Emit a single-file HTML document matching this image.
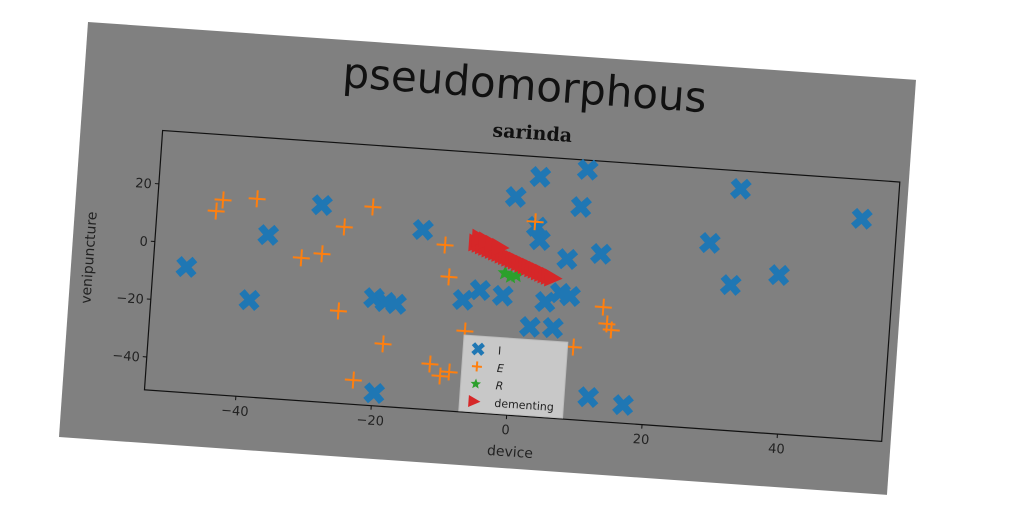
<!DOCTYPE html>
<html><head><meta charset="utf-8"><style>
html,body{margin:0;padding:0;background:#fff;width:1024px;height:512px;overflow:hidden}
#fig{position:absolute;left:88px;top:22px;width:830px;height:416px;transform-origin:0 0;transform:rotate(4deg);background:#808080}
text{font-family:"DejaVu Sans","Liberation Sans",sans-serif}
</style></head><body>
<div id="fig">
<svg id="chart" width="830" height="416">
<text x="440" y="47" text-anchor="middle" font-size="42" font-family="'Comic Sans MS','DejaVu Sans',sans-serif" fill="#111">pseudomorphous</text>
<text x="451" y="86" text-anchor="middle" font-size="19" font-weight="bold" style="font-family:'DejaVu Serif','Liberation Serif',serif" fill="#111">sarinda</text>
<g id="plot"></g>
<text x="451" y="404" text-anchor="middle" font-size="14" fill="#222">device</text>
<text transform="translate(22,235) rotate(-90)" text-anchor="middle" font-size="14" fill="#222">venipuncture</text>
</svg></div>
<script>
const blueX=[-48.6,-39.0,-36.9,-29.3,-20.7,-19.0,-17.4,-19.7,-14.2,-7.6,-5.2,-1.8,-0.9,2.5,9.4,8.8,2.5,3.1,7.3,12.2,4.5,6.6,8.1,2.5,5.9,11.8,17.0,28.1,31.6,32.1,38.6,50.2];
const blueY=[-8.0,-17.9,5.0,16.6,-14.2,-15.3,-15.7,-47.0,10.5,-12.7,-8.9,-10.3,24.1,31.6,35.2,22.2,14.3,9.8,3.9,6.5,-11.4,-8.0,-8.8,-20.4,-20.2,-43.2,-45.1,12.9,-1.1,32.3,3.5,24.9];
const orangeX=[-43.9,-44.8,-38.9,-21.8,-25.8,-31.8,-28.8,-10.8,-9.9,-25.8,-18.9,-11.8,-8.9,-10.2,-22.9,-7.0,2.2,13.1,13.8,14.5,9.1];
const orangeY=[16.0,12.0,17.2,17.2,9.6,-2.1,-0.2,5.8,-5.1,-19.5,-29.8,-35.6,-37.9,-39.5,-43.0,-23.4,16.0,-11.8,-17.5,-19.5,-26.3];
const greenX=[-1.7,-0.8,0.0];
const greenY=[-2.5,-3.5,-3.0];
const redX=[-6.0,-5.5,-5.0,-4.5,-4.0,-3.5,-3.0,-2.5,-2.0,-1.5,-1.0,-0.5,0.0,0.5,1.0,1.5,2.0,2.5,3.0,3.5,4.0,4.5,5.0,5.5,-5.6,-4.6,-3.6,-2.6];
const redY=[7.3,6.9,6.4,6.0,5.5,5.1,4.6,4.2,3.7,3.3,2.8,2.4,2.0,1.5,1.1,0.6,0.2,-0.3,-0.7,-1.2,-1.6,-2.1,-2.5,-3.0,9.0,8.2,7.2,6.3];
const xTicks=[-40,-20,0,20,40];
const yTicks=[20,0,-20,-40];
const L=82,T=103,W=739,H=260,xmin=-53.5,xmax=55.4,ymin=-51.4,ymax=38.5;
const sx=v=>L+(v-xmin)/(xmax-xmin)*W;
const sy=v=>T+(ymax-v)/(ymax-ymin)*H;
const NS='http://www.w3.org/2000/svg';
const plot=document.getElementById('plot');
function mk(tag,attrs,parent){const e=document.createElementNS(NS,tag);for(const k in attrs)e.setAttribute(k,attrs[k]);(parent||plot).appendChild(e);return e;}
const frame=mk('rect',{x:L,y:T,width:W,height:H,fill:'none',stroke:'#111','stroke-width':1.2});


xTicks.forEach(t=>{
 const g=mk('g',{});
 
 
 mk('line',{x1:sx(t),x2:sx(t),y1:T+H,y2:T+H+4,stroke:'#111'},g);
 const tx=mk('text',{x:sx(t),y:T+H+19,'text-anchor':'middle','font-size':13,fill:'#222'},g);tx.textContent=String(t).replace('-','\u2212');
});
yTicks.forEach(t=>{
 const g=mk('g',{});
 
 
 mk('line',{x1:L-4,x2:L,y1:sy(t),y2:sy(t),stroke:'#111'},g);
 const tx=mk('text',{x:L-7,y:sy(t)+5,'text-anchor':'end','font-size':13,fill:'#222'},g);tx.textContent=String(t).replace('-','\u2212');
});
function xmark(cx,cy,s,g){const d=s/2;mk('path',{d:`M${cx-d} ${cy-d}L${cx+d} ${cy+d}M${cx-d} ${cy+d}L${cx+d} ${cy-d}`,stroke:'#1f77b4','stroke-width':s*0.45,'stroke-linecap':'butt'},g);}
function plus(cx,cy,s,g){const d=s/2;mk('path',{d:`M${cx-d} ${cy}H${cx+d}M${cx} ${cy-d}V${cy+d}`,stroke:'#ff7f0e','stroke-width':2},g);}
function tri(cx,cy,s,g){const d=s/2;mk('path',{d:`M${cx+d} ${cy}L${cx-d} ${cy-d}L${cx-d} ${cy+d}Z`,fill:'#d62728'},g);}
function star(cx,cy,s,g){let p='';for(let i=0;i<10;i++){const r=i%2?s*0.22:s*0.5,a=-Math.PI/2+i*Math.PI/5;p+=(i?'L':'M')+(cx+r*Math.cos(a))+' '+(cy+r*Math.sin(a));}mk('path',{d:p+'Z',fill:'#2ca02c'},g);}
const gb=mk('g',{});
blueX.forEach((v,i)=>xmark(sx(v),sy(blueY[i]),16,gb));
const go=mk('g',{});
orangeX.forEach((v,i)=>plus(sx(v),sy(orangeY[i]),17,go));
const gg=mk('g',{});
greenX.forEach((v,i)=>star(sx(v),sy(greenY[i]),16,gg));
const gr=mk('g',{});
redX.forEach((v,i)=>tri(sx(v),sy(redY[i]),18,gr));
// legend
const lg=mk('g',{});
mk('rect',{x:397,y:286,width:104,height:76,fill:'#c8c8c8',stroke:'#bbb'},lg);
const labs=['I','E','R','dementing'];
labs.forEach((l,i)=>{
 const y=299+i*17.5;
 const e=mk('g',{},lg);
 
 
 if(i==0)xmark(412,y,10,e);if(i==1)plus(412,y,10,e);if(i==2)star(412,y,11,e);if(i==3)tri(412,y,12,e);
 const t=mk('text',{x:432,y:y+4,'font-size':11,fill:'#222','font-style':(i==1||i==2)?'italic':'normal'},e);t.textContent=l;
});
</script>
</body></html>
